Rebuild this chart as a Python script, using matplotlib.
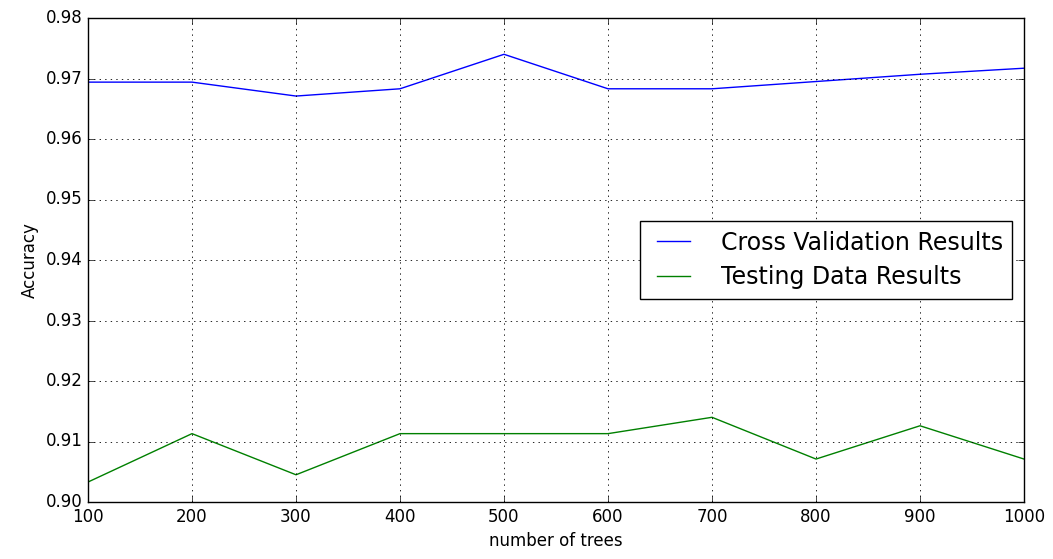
import matplotlib
matplotlib.use("Agg")
import matplotlib.pyplot as plt

n_trees = [100, 200, 300, 400, 500, 600, 700, 800, 900, 1000]
cv_results = [0.9694, 0.9694, 0.9671, 0.9683, 0.9740, 0.9683, 0.9683, 0.9695, 0.9707, 0.9717]
test_results = [0.9033, 0.9113, 0.9045, 0.9113, 0.9113, 0.9113, 0.9140, 0.9071, 0.9126, 0.9071]

plt.style.use("classic")
fig = plt.figure(figsize=(10.53, 5.59), dpi=100, facecolor="white")
ax = fig.add_axes([88 / 1053, 1 - 502 / 559, 936 / 1053, 484 / 559])

ax.plot(n_trees, cv_results, color="b", label="Cross Validation Results")
ax.plot(n_trees, test_results, color="g", label="Testing Data Results")

ax.set_xlim(100, 1000)
ax.set_ylim(0.90, 0.98)
ax.set_xticks(range(100, 1001, 100))
ax.set_yticks([0.90, 0.91, 0.92, 0.93, 0.94, 0.95, 0.96, 0.97, 0.98])
ax.set_yticklabels(["%.2f" % v for v in ax.get_yticks()])
ax.tick_params(labelsize=12)
ax.grid(True, linestyle=":", color="black", linewidth=0.6)
ax.set_xlabel("number of trees", fontsize=12)
ax.set_ylabel("Accuracy", fontsize=12)
ax.legend(loc="center right", fontsize=17, borderaxespad=0.5,
          labelspacing=0.45, handletextpad=1.0)

fig.savefig("out.png", dpi=100, facecolor="white")
